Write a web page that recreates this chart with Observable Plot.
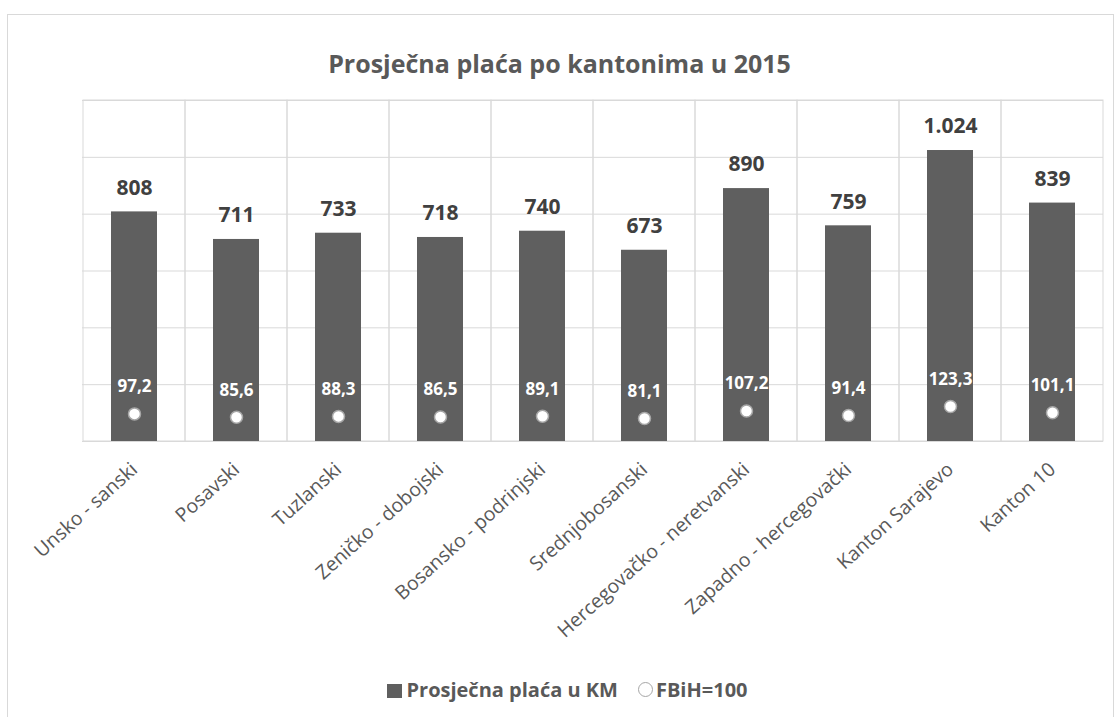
<!DOCTYPE html>
<html><head><meta charset="utf-8">
<script src="https://cdn.jsdelivr.net/npm/d3@7"></script>
<script src="https://cdn.jsdelivr.net/npm/@observablehq/plot@0.6"></script>
<style>
body{margin:0;background:#fff;font-family:"Open Sans",sans-serif;}
#wrap{position:relative;width:1119px;height:717px;overflow:hidden;background:#fff;}
#border{position:absolute;left:7px;top:14px;width:1105px;height:760px;border:1px solid #d9d9d9;}
#title{position:absolute;top:46px;left:0;width:1119px;text-align:center;font-size:25px;font-weight:bold;color:#595959;}
#chart{position:absolute;left:0;top:0;}
#legend{position:absolute;top:676px;left:8px;width:1119px;text-align:center;font-size:20px;font-weight:bold;color:#595959;white-space:nowrap;}
#legend span.sq{display:inline-block;width:15px;height:14px;background:#5f5f5f;margin-right:4px;vertical-align:-1px;}
#legend span.ci{display:inline-block;width:13px;height:13px;border:1px solid #a6a6a6;border-radius:50%;margin-left:20px;margin-right:3px;vertical-align:0px;}
</style></head>
<body>
<div id="wrap">
<div id="border"></div>
<div id="chart"></div>
<div id="title">Prosječna plaća po kantonima u 2015</div>
<div id="legend"><span class="sq"></span>Prosječna plaća u KM<span class="ci"></span>FBiH=100</div>
</div>
<script>
const cantons = ["Unsko - sanski","Posavski","Tuzlanski","Zeničko - dobojski","Bosansko - podrinjski","Srednjobosanski","Hercegovačko - neretvanski","Zapadno - hercegovački","Kanton Sarajevo","Kanton 10"];
const wages = [808,711,733,718,740,673,890,759,1024,839];
const indexFBiH = [97.2,85.6,88.3,86.5,89.1,81.1,107.2,91.4,123.3,101.1];
const gridValues = [0,200,400,600,800,1000,1200];

const loc = d3.formatLocale({decimal:",",thousands:".",grouping:[3],currency:["","KM"]});
const fmtW = loc.format(",d");
const fmtI = loc.format(".1f");
const data = cantons.map((c,i)=>({c, w:wages[i], idx:indexFBiH[i]}));

const chart = Plot.plot({
  width:1119, height:660,
  marginTop:100, marginLeft:82, marginRight:16, marginBottom:219,
  x:{domain:cantons, padding:0, label:null, tickSize:0, tickRotate:-42, tickPadding:25},
  y:{domain:[0,1200], axis:null},
  style:{fontFamily:"Open Sans", fontSize:"19.5px", color:"#595959", background:"transparent"},
  marks:[
    Plot.ruleY(gridValues,{stroke:"#d9d9d9", strokeWidth:1}),
    Plot.barY(data,{x:"c", y1:0, y2:1200, fill:"none", stroke:"#d9d9d9", strokeWidth:1}),
    Plot.barY(data,{x:"c", y:"w", fill:"#5f5f5f", insetLeft:28, insetRight:28}),
    Plot.text(data,{x:"c", y:"w", text:d=>fmtW(d.w), dy:-24, fontSize:21, fontWeight:"bold", fill:"#404040"}),
    Plot.dot(data,{x:"c", y:"idx", r:6, fill:"white", stroke:"#a6a6a6", strokeWidth:1.5}),
    Plot.text(data,{x:"c", y:"idx", text:d=>fmtI(d.idx), dy:-27, fontSize:17, fontWeight:"bold", fill:"white"})
  ]
});
document.getElementById("chart").appendChild(chart);
</script>
</body></html>
